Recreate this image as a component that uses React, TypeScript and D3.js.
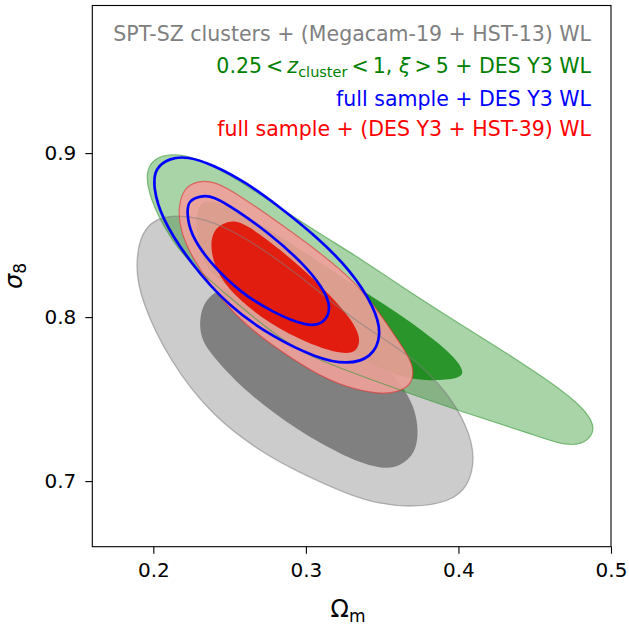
import React, { useEffect, useRef } from "react";
import * as d3 from "d3";

type Pt = [number, number];

// contours as (Omega_m, sigma_8)
const grayOuter: Pt[] = [
    [0.188, 0.831], [0.192, 0.852], [0.202, 0.860], [0.213, 0.862], [0.229, 0.861],
    [0.250, 0.854], [0.276, 0.839], [0.307, 0.817], [0.333, 0.797], [0.370, 0.776],
    [0.393, 0.754], [0.406, 0.733], [0.411, 0.715], [0.407, 0.697], [0.394, 0.687],
    [0.370, 0.684], [0.348, 0.686], [0.327, 0.692], [0.294, 0.706], [0.272, 0.717],
    [0.239, 0.739], [0.210, 0.774], [0.192, 0.810]
];
const grayInner: Pt[] = [
    [0.230, 0.800], [0.235, 0.813], [0.250, 0.819], [0.270, 0.819], [0.296, 0.810],
    [0.322, 0.795], [0.345, 0.777], [0.362, 0.760], [0.371, 0.746], [0.374, 0.731],
    [0.372, 0.717], [0.362, 0.709], [0.350, 0.707], [0.327, 0.714], [0.294, 0.731],
    [0.261, 0.754], [0.241, 0.774], [0.231, 0.786]
];
const greenOuter: Pt[] = [
    [0.213, 0.900], [0.229, 0.897], [0.250, 0.887], [0.276, 0.871], [0.307, 0.852],
    [0.337, 0.835], [0.362, 0.819], [0.392, 0.801], [0.425, 0.782], [0.458, 0.762],
    [0.478, 0.748], [0.488, 0.737], [0.489, 0.729], [0.481, 0.722], [0.468, 0.722],
    [0.447, 0.729], [0.403, 0.742], [0.360, 0.756], [0.316, 0.771], [0.294, 0.780],
    [0.272, 0.795], [0.250, 0.812], [0.224, 0.833], [0.212, 0.847], [0.203, 0.862],
    [0.197, 0.876], [0.195, 0.888], [0.200, 0.897]
];
const greenInner: Pt[] = [
    [0.228, 0.868], [0.237, 0.873], [0.261, 0.862], [0.294, 0.843], [0.327, 0.822],
    [0.360, 0.803], [0.392, 0.781], [0.404, 0.768], [0.402, 0.762], [0.377, 0.761],
    [0.360, 0.764], [0.337, 0.774], [0.316, 0.790], [0.283, 0.805], [0.250, 0.817],
    [0.235, 0.829], [0.228, 0.847]
];
const redOuter: Pt[] = [
    [0.216, 0.866], [0.220, 0.879], [0.229, 0.883], [0.240, 0.883], [0.257, 0.874],
    [0.283, 0.857], [0.307, 0.841], [0.333, 0.821], [0.348, 0.803], [0.361, 0.785],
    [0.371, 0.771], [0.370, 0.759], [0.360, 0.754], [0.348, 0.753], [0.327, 0.757],
    [0.305, 0.766], [0.276, 0.784], [0.257, 0.798], [0.239, 0.817], [0.225, 0.837],
    [0.218, 0.852]
];
const redInner: Pt[] = [
    [0.250, 0.859], [0.239, 0.854], [0.237, 0.841], [0.243, 0.824], [0.257, 0.810],
    [0.276, 0.796], [0.301, 0.784], [0.324, 0.777], [0.334, 0.779], [0.336, 0.788],
    [0.329, 0.800], [0.311, 0.818], [0.290, 0.836], [0.268, 0.852], [0.257, 0.858]
];
const blueOuter: Pt[] = [
    [0.201, 0.891], [0.211, 0.897], [0.222, 0.898], [0.239, 0.893], [0.261, 0.882],
    [0.283, 0.867], [0.307, 0.849], [0.329, 0.829], [0.345, 0.806], [0.350, 0.789],
    [0.343, 0.775], [0.327, 0.771], [0.307, 0.775], [0.278, 0.788], [0.250, 0.806],
    [0.224, 0.833], [0.205, 0.861], [0.200, 0.879]
];
const blueInner: Pt[] = [
    [0.223, 0.871], [0.231, 0.874], [0.239, 0.874], [0.255, 0.865], [0.276, 0.851],
    [0.298, 0.833], [0.311, 0.818], [0.317, 0.806], [0.312, 0.796], [0.301, 0.794],
    [0.278, 0.803], [0.257, 0.815], [0.237, 0.833], [0.224, 0.851], [0.222, 0.864]
];

const xTicks: number[] = [0.2, 0.3, 0.4, 0.5];
const yTicks: number[] = [0.7, 0.8, 0.9];
const xDomain: number[] = [0.16, 0.5];
const yDomain: number[] = [0.66, 0.99];

const FONT = "DejaVu Sans, sans-serif";

function App(): JSX.Element {
    const ref = useRef<SVGSVGElement>(null);

    useEffect(() => {
        const svg = d3.select(ref.current);
        svg.selectAll("*").remove();

        const left = 92.3, right = 611, top = 5.5, bottom = 546.7;
        const x = d3.scaleLinear().domain(xDomain).range([left, right]);
        const y = d3.scaleLinear().domain(yDomain).range([bottom, top]);

        const line = d3.line<Pt>()
            .x((p: Pt) => x(p[0]))
            .y((p: Pt) => y(p[1]))
            .curve(d3.curveBasisClosed);

        const g = svg.append("g");

        const fill = (pts: Pt[], color: string, opacity: number) =>
            g.append("path").attr("d", line(pts)).attr("fill", color).attr("fill-opacity", opacity).attr("stroke", "none");
        const edge = (pts: Pt[], color: string, width: number, opacity: number) =>
            g.append("path").attr("d", line(pts)).attr("fill", "none")
                .attr("stroke", color).attr("stroke-width", width).attr("stroke-opacity", opacity);

        fill(grayOuter, "#808080", 0.4);
        fill(grayInner, "#808080", 1);
        fill(greenOuter, "#008000", 0.34);
        fill(greenInner, "#008000", 0.75);
        fill(redOuter, "rgb(240,160,154)", 0.9);
        fill(redInner, "rgb(226,18,4)", 0.92);

        edge(grayOuter, "#808080", 1.3, 0.55);
        edge(greenOuter, "#3a9a3a", 1.2, 0.6);
        edge(redOuter, "#e03030", 1.2, 0.6);

        edge(blueOuter, "#0000ff", 2.7, 1);
        edge(blueInner, "#0000ff", 2.7, 1);

        // frame
        svg.append("rect")
            .attr("x", left).attr("y", top)
            .attr("width", right - left).attr("height", bottom - top)
            .attr("fill", "none").attr("stroke", "black").attr("stroke-width", 1.1);

        const xAxis = d3.axisBottom(x).tickValues(xTicks).tickSize(7).tickPadding(9)
            .tickFormat(d3.format(".1f"));
        const xg = svg.append("g").attr("transform", `translate(0,${bottom})`).call(xAxis);
        xg.select(".domain").remove();

        const yAxis = d3.axisLeft(y).tickValues(yTicks).tickSize(7).tickPadding(9)
            .tickFormat(d3.format(".1f"));
        const yg = svg.append("g").attr("transform", `translate(${left},0)`).call(yAxis);
        yg.select(".domain").remove();

        svg.selectAll(".tick text").attr("font-family", FONT).attr("font-size", 20).attr("fill", "black");
        svg.selectAll(".tick line").attr("stroke", "black").attr("stroke-width", 1.1);

        // axis labels
        const xl = svg.append("text")
            .attr("x", 348).attr("y", 617)
            .attr("text-anchor", "middle")
            .attr("font-family", FONT).attr("font-size", 24);
        xl.append("tspan").text("Ω");
        xl.append("tspan").attr("font-size", 17).attr("dy", 5).text("m");

        const yl = svg.append("text")
            .attr("transform", `translate(22,276) rotate(-90)`)
            .attr("text-anchor", "middle")
            .attr("font-family", FONT).attr("font-size", 24);
        yl.append("tspan").attr("font-style", "italic").text("σ");
        yl.append("tspan").attr("font-size", 17).attr("dy", 4).text("8");

        // legend texts
        const lx = 591;
        const legend = svg.append("g").attr("font-family", FONT).attr("font-size", 20.5).attr("text-anchor", "end");
        legend.append("text").attr("x", lx).attr("y", 41).attr("fill", "#808080")
            .text("SPT-SZ clusters + (Megacam-19 + HST-13) WL");

        const t2 = legend.append("text").attr("x", lx).attr("y", 73).attr("fill", "#008000");
        t2.append("tspan").text("0.25\u2009<\u2009");
        t2.append("tspan").attr("font-style", "italic").text("z");
        t2.append("tspan").attr("font-size", 14.5).attr("dy", 4).text("cluster");
        t2.append("tspan").attr("dy", -4).text("\u2009<\u20091, ");
        t2.append("tspan").attr("font-style", "italic").text("ξ");
        t2.append("tspan").text("\u2009>\u20095 + DES Y3 WL");

        legend.append("text").attr("x", lx).attr("y", 106).attr("fill", "#0000ff")
            .text("full sample + DES Y3 WL");
        legend.append("text").attr("x", lx).attr("y", 136).attr("fill", "#ff0000")
            .text("full sample + (DES Y3 + HST-39) WL");
    }, []);

    return <svg ref={ref} width={629} height={626}
        style={{ display: "block", position: "absolute", left: 0, top: 0 }} />;
}

export default App;
